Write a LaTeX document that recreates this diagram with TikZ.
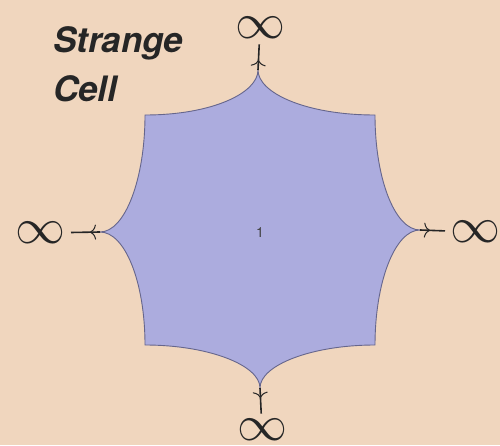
\documentclass[tikz,border=0pt]{standalone}
\usepackage{fontspec}
\usetikzlibrary{arrows.meta,decorations.markings}
\newfontfamily\heros{TeX Gyre Heros}
\newfontfamily\lmmath{Latin Modern Math}
\tikzset{
  cellline/.style={draw=black!75!blue!60,line width=0.9pt},
  outarrow/.style={line width=1.6pt,draw=black!85,postaction={decorate},
    decoration={markings,mark=at position 10pt with {\arrow[line width=1pt]{To[length=6pt,width=15pt]}}}},
  infsym/.style={inner sep=0pt,outer sep=5pt,font=\lmmath\fontsize{50}{50}\selectfont,text=black!85},
  titletext/.style={anchor=base west,inner sep=0pt,font=\heros\bfseries\itshape\fontsize{35}{35}\selectfont,text=black!85}
}
\begin{document}
\begin{tikzpicture}[x=1pt,y=1pt]
\definecolor{paper}{RGB}{240,214,190}
\definecolor{cellblue}{RGB}{172,172,222}
\fill[paper] (0,0) rectangle (500,445);
\useasboundingbox (0,0) rectangle (500,445);
% the cell, with its four cusps
\coordinate (ctop) at (258,375);
\coordinate (cright) at (420,215);
\coordinate (cbottom) at (260,57);
\coordinate (cleft) at (100,213);
\filldraw[fill=cellblue,cellline] (145,330) .. controls (212,330) and (258,352) .. (ctop)
  .. controls (258,352) and (306,330) .. (375,330)
  .. controls (375,266) and (395,215) .. (cright)
  .. controls (395,215) and (375,163) .. (375,100)
  .. controls (312,100) and (260,80) .. (cbottom)
  .. controls (260,80) and (208,100) .. (145,100)
  .. controls (145,163) and (125,213) .. (cleft)
  .. controls (125,213) and (145,266) .. (145,330) -- cycle;
\node[inner sep=0pt,font=\heros\fontsize{14}{14}\selectfont,text=black!75] (one) at (260,212) {1};
% the four infinities
\node[infsym] (itop) at (260,417) {∞};
\node[infsym] (ileft) at (41,212) {∞};
\node[infsym] (iright) at (475,213) {∞};
\node[infsym] (ibottom) at (262,15) {∞};
\draw[outarrow] (ctop) -- (itop);
\draw[outarrow] (cleft) -- (ileft);
\draw[outarrow] (cright) -- (iright);
\draw[outarrow] (cbottom) -- (ibottom);
% title
\node[titletext] (strange) at (53,392) {Strange};
\node[titletext] (cell) at (53,343) {Cell};
\end{tikzpicture}
\end{document}
